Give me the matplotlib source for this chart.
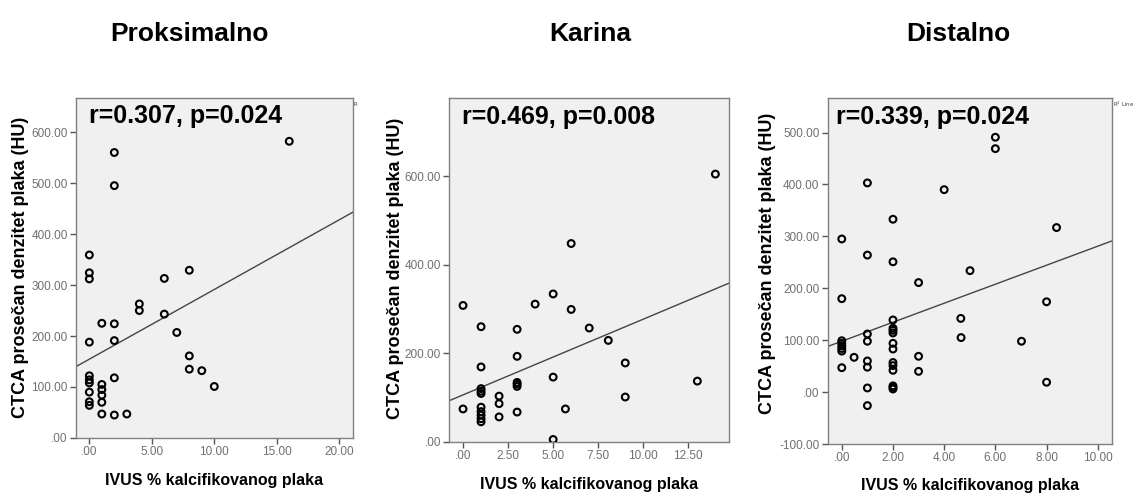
import matplotlib
matplotlib.use("Agg")
import matplotlib.pyplot as plt
from matplotlib.ticker import FuncFormatter, MultipleLocator
import numpy as np

# panel titles and stats
titles = ["Proksimalno", "Karina", "Distalno"]
stats = ["r=0.307, p=0.024", "r=0.469, p=0.008", "r=0.339, p=0.024"]

# Proksimalno
prox_x = [16, 2, 2, 0, 0, 0, 8, 6, 4, 4, 6, 1, 2, 7, 0, 2, 8, 8, 9, 10, 2,
          0, 0, 0, 0, 0, 0, 1, 1, 1, 1, 1, 2, 3]
prox_y = [582, 560, 495, 359, 324, 312, 329, 313, 263, 250, 243, 225, 224, 207, 188, 191, 161, 135, 132, 101, 118,
          122, 114, 108, 90, 71, 64, 105, 95, 84, 70, 47, 45, 47]

# Karina
kar_x = [14, 6, 5, 4, 6, 0, 1, 3, 7, 8.06, 3, 9, 1, 5, 13, 3, 3, 3, 1, 1, 1,
         2, 2, 2, 9, 0, 5.68, 3, 1, 1, 1, 1, 1, 5]
kar_y = [605, 448, 334, 311, 299, 308, 260, 254, 257, 229, 193, 178, 169, 146, 137, 134, 130, 125, 120, 114, 109,
         103, 86, 56, 101, 74, 74, 67, 78, 68, 60, 52, 45, 5]

# Distalno
dist_x = [6, 6, 1, 4, 2, 8.39, 0, 1, 2, 5.01, 3, 0, 8, 4.65, 4.66, 7.02,
          0, 0, 0, 0, 0, 0,
          1, 1, 1, 1, 1, 1,
          2, 2, 2, 2, 2, 2, 2, 2, 2, 2, 2, 2,
          3, 3, 0.48, 8]
dist_y = [491, 469, 403, 390, 333, 317, 295, 264, 251, 234, 211, 180, 174, 142, 105, 98,
          99, 94, 89, 84, 79, 47,
          112, 98, 60, 48, 8, -26,
          139, 123, 119, 114, 94, 83, 57, 51, 42, 12, 9, 6,
          69, 40, 67, 19]

# fit lines (intercept, slope)
fit_lines = [(154.6, 13.67), (105.8, 17.12), (98.0, 18.31)]

xlims = [(-1.07, 21.1), (-0.76, 14.76), (-0.55, 10.57)]
ylims = [(0, 667), (0, 777), (-100, 566)]
xsteps = [5, 2.5, 2]
ysteps = [100, 200, 100]

positions = [
    [0.0667, 0.1152, 0.2432, 0.6869],
    [0.3945, 0.1077, 0.2456, 0.6943],
    [0.7267, 0.1030, 0.2499, 0.6984],
]
ylab_x = [-0.202, -0.194, -0.213]
ylab_y = [0.503, 0.505, 0.522]
xlab_y = [-0.124, -0.126, -0.119]
stat_x = [0.047, 0.044, 0.029]
title_x = [190 / 1139, 590 / 1139, 958 / 1139]

sans = ["Liberation Sans", "DejaVu Sans"]


def spss_fmt(v, pos):
    s = "%.2f" % v
    if s.startswith("0."):
        s = s[1:]
    if s == "-.00":
        s = ".00"
    return s


fig = plt.figure(figsize=(11.39, 4.95), dpi=100)
xs = [prox_x, kar_x, dist_x]
ys = [prox_y, kar_y, dist_y]

for i in range(3):
    ax = fig.add_axes(positions[i])
    ax.set_facecolor("#f0f0f0")
    for sp in ax.spines.values():
        sp.set_color("#808080")
        sp.set_linewidth(1.0)

    ax.scatter(xs[i], ys[i], s=24, facecolors="none", edgecolors="black",
               linewidths=1.5, zorder=3)

    b0, b1 = fit_lines[i]
    lx = np.array(xlims[i])
    ax.plot(lx, b0 + b1 * lx, color="#444444", lw=1.0, zorder=2)

    ax.set_xlim(*xlims[i])
    ax.set_ylim(*ylims[i])
    ax.xaxis.set_major_locator(MultipleLocator(xsteps[i]))
    ax.yaxis.set_major_locator(MultipleLocator(ysteps[i]))
    ax.xaxis.set_major_formatter(FuncFormatter(spss_fmt))
    ax.yaxis.set_major_formatter(FuncFormatter(spss_fmt))
    ax.tick_params(direction="out", length=4, width=1, color="#555555",
                   labelsize=8.5, labelcolor="#707070", pad=2)
    for lab in ax.get_xticklabels() + ax.get_yticklabels():
        lab.set_family(sans)

    ax.text(stat_x[i], 0.946, stats[i], transform=ax.transAxes, ha="left",
            va="center", fontsize=18, fontweight="bold", family=sans)
    ax.text(ylab_x[i], ylab_y[i], "CTCA prosečan denzitet plaka (HU)",
            transform=ax.transAxes, rotation=90, ha="center", va="center",
            fontsize=13, fontweight="bold", family=sans)
    ax.text(0.5, xlab_y[i], "IVUS % kalcifikovanog plaka",
            transform=ax.transAxes, ha="center", va="center",
            fontsize=11.5, fontweight="bold", family=sans)

    fig.text(title_x[i], 0.931, titles[i], ha="center", va="center",
             fontsize=19, fontweight="bold", family=sans)

# small leftover legend fragments
fig.text(354 / 1139, 1 - 104 / 495, "R", fontsize=4, color="#444444",
         ha="left", va="center")
fig.text(1113 / 1139, 1 - 104 / 495, "R$^2$ Line", fontsize=4, color="#444444",
         ha="left", va="center")

fig.savefig("out.png", dpi=100)
